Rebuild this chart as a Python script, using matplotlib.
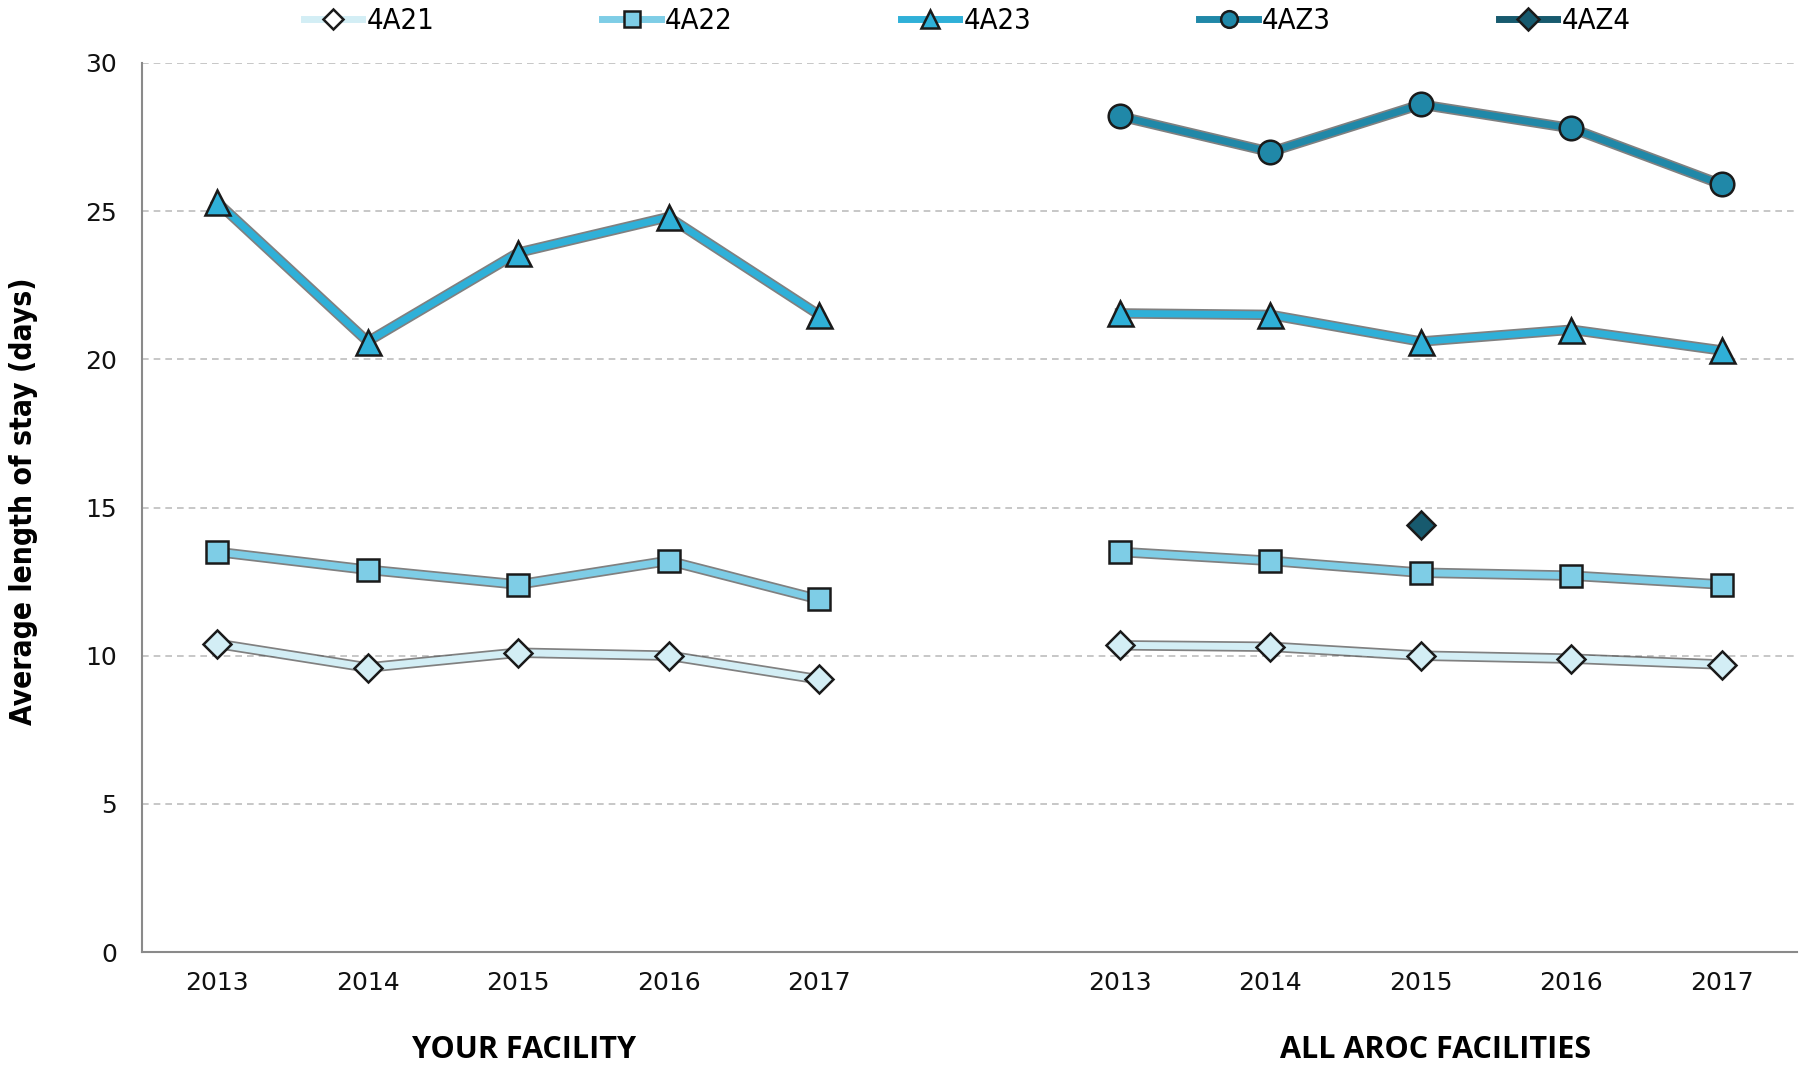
import matplotlib
matplotlib.use("Agg")
import matplotlib.pyplot as plt
import matplotlib.patheffects as pe
import numpy as np

years = ["2013", "2014", "2015", "2016", "2017"]
groups = ["YOUR FACILITY", "ALL AROC FACILITIES"]
series_names = ["4A21", "4A22", "4A23", "4AZ3", "4AZ4"]

# Your facility values
your_4A21 = [10.4, 9.6, 10.1, 10.0, 9.2]
your_4A22 = [13.5, 12.9, 12.4, 13.2, 11.9]
your_4A23 = [25.3, 20.6, 23.6, 24.8, 21.5]
your_4AZ3 = [np.nan] * 5
your_4AZ4 = [np.nan] * 5

# All AROC facilities values
all_4A21 = [10.35, 10.3, 10.0, 9.9, 9.7]
all_4A22 = [13.5, 13.2, 12.8, 12.7, 12.4]
all_4A23 = [21.55, 21.5, 20.6, 21.0, 20.3]
all_4AZ3 = [28.2, 27.0, 28.6, 27.8, 25.9]
all_4AZ4 = [np.nan, np.nan, 14.4, np.nan, np.nan]

colors = ["#d3eef5", "#7ecde6", "#2fb0d8", "#2088a8", "#175a6e"]
markers = ["D", "s", "^", "o", "D"]
msizes = [14.5, 16, 18, 17, 14]
legend_msizes = [10, 11.5, 13, 12, 11]

your = [your_4A21, your_4A22, your_4A23, your_4AZ3, your_4AZ4]
allf = [all_4A21, all_4A22, all_4A23, all_4AZ3, all_4AZ4]

fig = plt.figure(figsize=(18, 10.66), dpi=100)
ax = fig.add_axes([142/1800, 1 - 952/1066, (1797-142)/1800, (952-63)/1066])

x_left = np.arange(5)
x_right = np.arange(5) + 6

shadow = [pe.Stroke(linewidth=7.5, foreground="#4a4a4a", alpha=0.7), pe.Normal()]

handles = []
for i, name in enumerate(series_names):
    for xs, vals in ((x_left, your[i]), (x_right, allf[i])):
        ax.plot(xs, vals, color=colors[i], lw=5, path_effects=shadow,
                zorder=3 + 2 * i, solid_joinstyle="miter")
        ax.plot(xs, vals, lw=0, marker=markers[i],
                markersize=msizes[i], markerfacecolor=colors[i],
                markeredgecolor="#1a1a1a", markeredgewidth=1.8, zorder=4 + 2 * i)
    h, = ax.plot([], [], color=colors[i], lw=5, marker=markers[i],
                 markersize=legend_msizes[i], markerfacecolor=colors[i] if i != 0 else "white",
                 markeredgecolor="#1a1a1a", markeredgewidth=1.8)
    handles.append(h)

ax.set_xlim(-0.5, 10.5)
ax.set_ylim(0, 30)
ax.set_yticks(np.arange(0, 31, 5))
ax.set_xticks(list(x_left) + list(x_right))
ax.set_xticklabels(years + years)
ax.tick_params(axis="both", length=0, labelsize=18, colors="#111111")
ax.tick_params(axis="x", pad=14)
ax.tick_params(axis="y", pad=18)
ax.yaxis.grid(True, linestyle=(0, (4, 3)), color="#bdbdbd", lw=1.2)
ax.set_axisbelow(True)
for s in ("top", "right"):
    ax.spines[s].set_visible(False)
for s in ("left", "bottom"):
    ax.spines[s].set_color("#8a8a8a")
    ax.spines[s].set_linewidth(1.5)

ax.set_ylabel("Average length of stay (days)", fontsize=21.5, fontweight="bold",
              family="DejaVu Sans", fontstretch="condensed")
ax.yaxis.set_label_coords((24 - 142) / 1655, (952 - 501) / 889)
ax.yaxis.label.set_va("center")

ax.text(2.04, -3.3, groups[0], ha="center", va="center", fontsize=22, fontweight="bold",
        family=["Open Sans", "DejaVu Sans"])
ax.text(8.1, -3.3, groups[1], ha="center", va="center", fontsize=22, fontweight="bold",
        family=["Open Sans", "DejaVu Sans"])

leg = fig.legend(handles, series_names, loc="center left",
                 bbox_to_anchor=(304/1800, 1 - 21/1066),
                 ncol=5, frameon=False, handlelength=2.0, columnspacing=5.76,
                 handletextpad=0.15, borderpad=0, borderaxespad=0,
                 prop={"family": "DejaVu Sans", "stretch": "condensed", "size": 21})

fig.savefig("out.png", dpi=100)
